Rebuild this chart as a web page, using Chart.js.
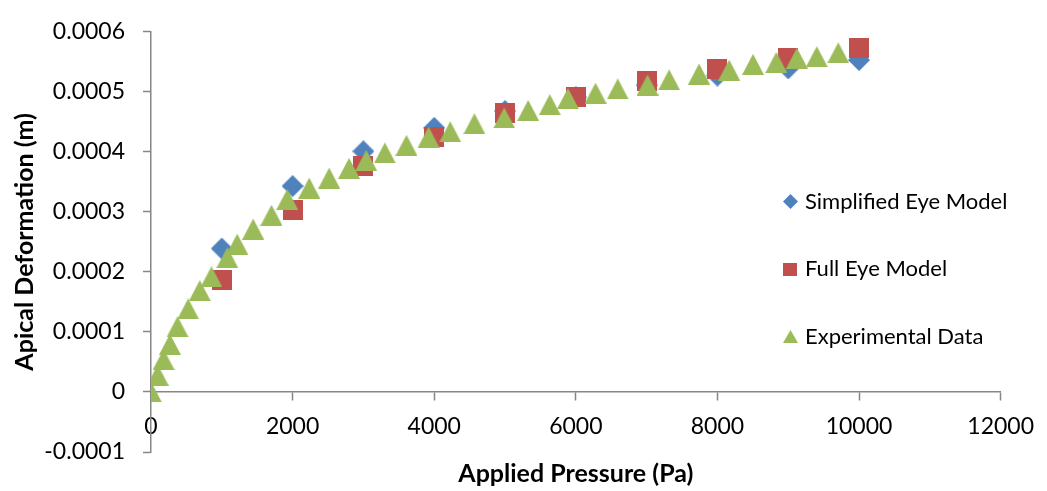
<!DOCTYPE html>
<html>
<head>
<meta charset="utf-8">
<script src="https://cdn.jsdelivr.net/npm/chart.js@4.4.1/dist/chart.umd.min.js"></script>
<style>
html,body{margin:0;padding:0;background:#fff;}
#wrap{width:1047px;height:491px;position:relative;}
</style>
</head>
<body>
<div id="wrap"><canvas id="c" width="1047" height="491"></canvas></div>
<script>
// ---- data ----
const seriesNames = ['Simplified Eye Model', 'Full Eye Model', 'Experimental Data'];
const modelPressure = [1000, 2000, 3000, 4000, 5000, 6000, 7000, 8000, 9000, 10000];
const simplifiedDeformation = [0.000239, 0.000343, 0.000401, 0.000440, 0.000468, 0.000491, 0.000511, 0.000527, 0.000539, 0.000553];
const fullDeformation = [0.000186, 0.000303, 0.000377, 0.000425, 0.000464, 0.000492, 0.000518, 0.000538, 0.000557, 0.000573];
const expPressure = [0, 94, 178, 267, 375, 525, 689, 853, 1078, 1218, 1443, 1701, 1925, 2235, 2516, 2797, 3040, 3303, 3608, 3921, 4226, 4568, 4989, 5327, 5632, 5889, 6278, 6592, 7013, 7318, 7740, 8166, 8503, 8831, 9122, 9403, 9707];
const expDeformation = [0, 0.0000282, 0.0000540, 0.0000792, 0.0001087, 0.0001383, 0.0001689, 0.0001919, 0.0002237, 0.0002462, 0.0002713, 0.0002945, 0.0003208, 0.0003396, 0.0003562, 0.0003723, 0.0003857, 0.0003981, 0.0004110, 0.0004243, 0.0004335, 0.0004469, 0.0004565, 0.0004689, 0.0004786, 0.0004887, 0.0004979, 0.0005048, 0.0005113, 0.0005200, 0.0005296, 0.0005361, 0.0005457, 0.0005490, 0.0005559, 0.0005586, 0.0005650];
const xTickValues = [0, 2000, 4000, 6000, 8000, 10000, 12000];
const xTickLabels = ['0', '2000', '4000', '6000', '8000', '10000', '12000'];
const yTickValues = [-0.0001, 0, 0.0001, 0.0002, 0.0003, 0.0004, 0.0005, 0.0006];
const yTickLabels = ['-0.0001', '0', '0.0001', '0.0002', '0.0003', '0.0004', '0.0005', '0.0006'];
const xTitle = 'Applied Pressure (Pa)';
const yTitle = 'Apical Deformation (m)';

// ---- styles ----
const colors = ['#4F81BD', '#C0504D', '#9BBB59'];
const AXIS = '#868686';
const FONT = 'Lato';

function marker(shape, w, h, color) {
  const c = document.createElement('canvas');
  c.width = w; c.height = h;
  const g = c.getContext('2d');
  g.fillStyle = color;
  g.beginPath();
  if (shape === 'diamond') {
    g.moveTo(w / 2, 0); g.lineTo(w, h / 2); g.lineTo(w / 2, h); g.lineTo(0, h / 2);
  } else if (shape === 'square') {
    g.rect(0, 0, w, h);
  } else {
    g.moveTo(w / 2, 0); g.lineTo(w, h); g.lineTo(0, h);
  }
  g.closePath();
  g.fill();
  return c;
}

const chartMarkers = [
  marker('diamond', 22, 22, colors[0]),
  marker('square', 20, 20, colors[1]),
  marker('triangle', 22, 21, colors[2])
];
const legendMarkers = [
  marker('diamond', 15, 15, colors[0]),
  marker('square', 14, 13, colors[1]),
  marker('triangle', 15, 13, colors[2])
];

const legendLayout = { markerX: 790, textX: 805, rows: [201.5, 269, 336.5] };

const legendPlugin = {
  id: 'sideLegend',
  afterDraw(chart) {
    const ctx = chart.ctx;
    ctx.save();
    ctx.font = '22px ' + FONT;
    ctx.fillStyle = '#000';
    ctx.textBaseline = 'middle';
    ctx.textAlign = 'left';
    seriesNames.forEach((name, i) => {
      const m = legendMarkers[i];
      const y = legendLayout.rows[i];
      ctx.drawImage(m, Math.round(legendLayout.markerX - m.width / 2), Math.round(y - m.height / 2));
      ctx.fillText(name, legendLayout.textX, y);
    });
    ctx.restore();
  }
};

function axisCommon() {
  return {
    grid: { drawOnChartArea: false, drawTicks: true, tickLength: 8, tickColor: AXIS, tickWidth: 1.5 },
    border: { display: true, color: AXIS, width: 1.5 }
  };
}

function build() {
  const ctx = document.getElementById('c').getContext('2d');
  new Chart(ctx, {
    type: 'scatter',
    data: {
      datasets: [
        {
          label: seriesNames[0],
          data: modelPressure.map((x, i) => ({ x: x, y: simplifiedDeformation[i] })),
          pointStyle: chartMarkers[0], pointRadius: 11, order: 3,
          backgroundColor: colors[0], borderColor: colors[0]
        },
        {
          label: seriesNames[1],
          data: modelPressure.map((x, i) => ({ x: x, y: fullDeformation[i] })),
          pointStyle: chartMarkers[1], pointRadius: 10, order: 2,
          backgroundColor: colors[1], borderColor: colors[1]
        },
        {
          label: seriesNames[2],
          data: expPressure.map((x, i) => ({ x: x, y: expDeformation[i] })),
          pointStyle: chartMarkers[2], pointRadius: 11, order: 1,
          backgroundColor: colors[2], borderColor: colors[2]
        }
      ]
    },
    options: {
      responsive: false,
      animation: false,
      devicePixelRatio: 1,
      layout: { padding: { left: 0, top: 19, right: 42, bottom: 39 } },
      plugins: { legend: { display: false }, tooltip: { enabled: false } },
      scales: {
        x: Object.assign(axisCommon(), {
          type: 'linear',
          position: { y: 0 },
          min: xTickValues[0],
          max: xTickValues[xTickValues.length - 1],
          afterBuildTicks: s => { s.ticks = xTickValues.map(v => ({ value: v })); },
          ticks: {
            callback: (v, i) => xTickLabels[i],
            color: '#000', font: { family: FONT, size: 23 },
            padding: 13, maxRotation: 0, autoSkip: false
          },
          title: {
            display: true, text: xTitle, color: '#000',
            font: { family: FONT, size: 25, weight: 'bold' },
            padding: { top: 5, bottom: 0 }
          }
        }),
        y: Object.assign(axisCommon(), {
          type: 'linear',
          position: 'left',
          min: yTickValues[0],
          max: yTickValues[yTickValues.length - 1],
          afterBuildTicks: s => { s.ticks = yTickValues.map(v => ({ value: v })); },
          afterFit: s => { s.width = 151; },
          ticks: {
            callback: (v, i) => yTickLabels[i],
            color: '#000', font: { family: FONT, size: 23 },
            padding: 18, autoSkip: false
          },
          title: {
            display: true, text: yTitle, color: '#000',
            font: { family: FONT, size: 25, weight: 'bold' },
            padding: { top: 9.5, bottom: 0 }
          }
        })
      }
    },
    plugins: [legendPlugin]
  });
}

const fontReady = (document.fonts && document.fonts.load)
  ? Promise.all([document.fonts.load('23px ' + FONT), document.fonts.load('bold 25px ' + FONT), document.fonts.load('22px ' + FONT)]).catch(() => {})
  : Promise.resolve();
fontReady.then(build, build);
</script>
</body>
</html>
